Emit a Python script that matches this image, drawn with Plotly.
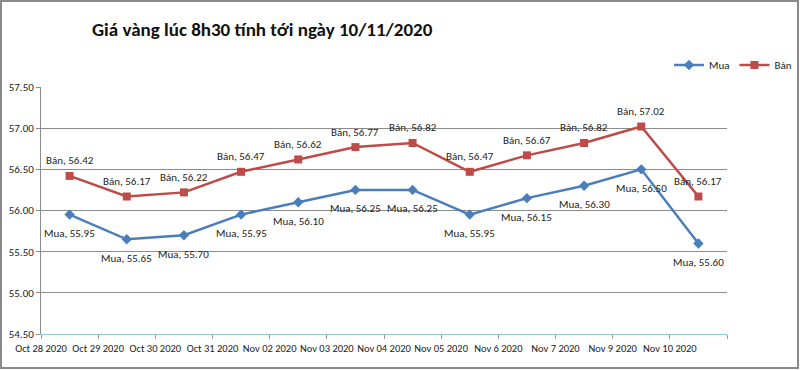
import plotly.graph_objects as go

dates = ["Oct 28 2020", "Oct 29 2020", "Oct 30 2020", "Oct 31 2020", "Nov 02 2020",
         "Nov 03 2020", "Nov 04 2020", "Nov 05 2020", "Nov 6 2020", "Nov 7 2020",
         "Nov 9 2020", "Nov 10 2020"]
mua = [55.95, 55.65, 55.70, 55.95, 56.10, 56.25, 56.25, 55.95, 56.15, 56.30, 56.50, 55.60]
ban = [56.42, 56.17, 56.22, 56.47, 56.62, 56.77, 56.82, 56.47, 56.67, 56.82, 57.02, 56.17]
y_ticks = [54.5, 55.0, 55.5, 56.0, 56.5, 57.0, 57.5]

FONT = "Calibri, Carlito, Lato, sans-serif"
BLUE = "#4A7EBB"
RED = "#BE4B48"

xpos = [i + 0.5 for i in range(len(dates))]

fig = go.Figure()
fig.add_trace(go.Scatter(x=xpos, y=mua, name="Mua", mode="lines+markers",
                         line=dict(color=BLUE, width=2.5),
                         marker=dict(symbol="diamond", size=8, color=BLUE)))
fig.add_trace(go.Scatter(x=xpos, y=ban, name="Bán", mode="lines+markers",
                         line=dict(color=RED, width=2.5),
                         marker=dict(symbol="square", size=8, color=RED)))

annotations = []
for x, v in zip(xpos, mua):
    annotations.append(dict(x=x, y=v, text=f"Mua, {v:.2f}", showarrow=False,
                            yshift=-19, font=dict(family=FONT, size=11, color="#222222")))
for x, v in zip(xpos, ban):
    annotations.append(dict(x=x, y=v, text=f"Bán, {v:.2f}", showarrow=False,
                            yshift=15, font=dict(family=FONT, size=11, color="#222222")))

W, H = 800, 370
L, R, T, B = 41, 73, 87, 36
pw, ph = W - L - R, H - T - B

fig.update_layout(
    width=W, height=H,
    margin=dict(l=L, r=R, t=T, b=B, autoexpand=False),
    paper_bgcolor="white", plot_bgcolor="white",
    font=dict(family=FONT, size=11, color="#222222"),
    title=dict(text="<b>Giá vàng lúc 8h30 tính tới ngày 10/11/2020</b>",
               x=92 / W, xanchor="left", xref="container",
               y=1 - 29 / H, yanchor="middle", yref="container",
               font=dict(family=FONT, size=19, color="#111111")),
    showlegend=True,
    legend=dict(orientation="h", x=1 + (797 - (W - R)) / pw, xanchor="right",
                y=1 + (T - 65) / ph, yanchor="middle",
                font=dict(family=FONT, size=11, color="#222222"),
                bgcolor="rgba(0,0,0,0)", itemwidth=30, tracegroupgap=0),
    annotations=annotations,
    xaxis=dict(range=[0, len(dates)], tickmode="array",
               tickvals=list(range(len(dates) + 1)), ticktext=dates + [""],
               tickangle=0, automargin=False,
               showgrid=False, zeroline=False, showline=True, linecolor="#8ECCD6",
               linewidth=1, ticks="outside", ticklen=4, tickcolor="#999999",
               tickfont=dict(family=FONT, size=10.5, color="#222222")),
    yaxis=dict(range=[54.5, 57.5], tickmode="array", tickvals=y_ticks,
               tickformat=".2f", showgrid=True, gridcolor="#8C8C8C", gridwidth=1,
               automargin=False,
               zeroline=False, showline=True, linecolor="#8C8C8C", ticks="outside",
               ticklen=4, tickcolor="#8C8C8C",
               tickfont=dict(family=FONT, size=11, color="#222222")),
    shapes=[dict(type="rect", xref="paper", yref="paper",
                 x0=-(L - 1) / pw, x1=1 + (R - 2) / pw,
                 y0=-(B - 2) / ph, y1=1 + (T - 1) / ph,
                 line=dict(color="#8A8A8A", width=2), layer="below")],
)

fig.write_html("out.html",
               config={"displayModeBar": False},
               post_script="document.body.style.margin='0';document.body.style.overflow='hidden';")
